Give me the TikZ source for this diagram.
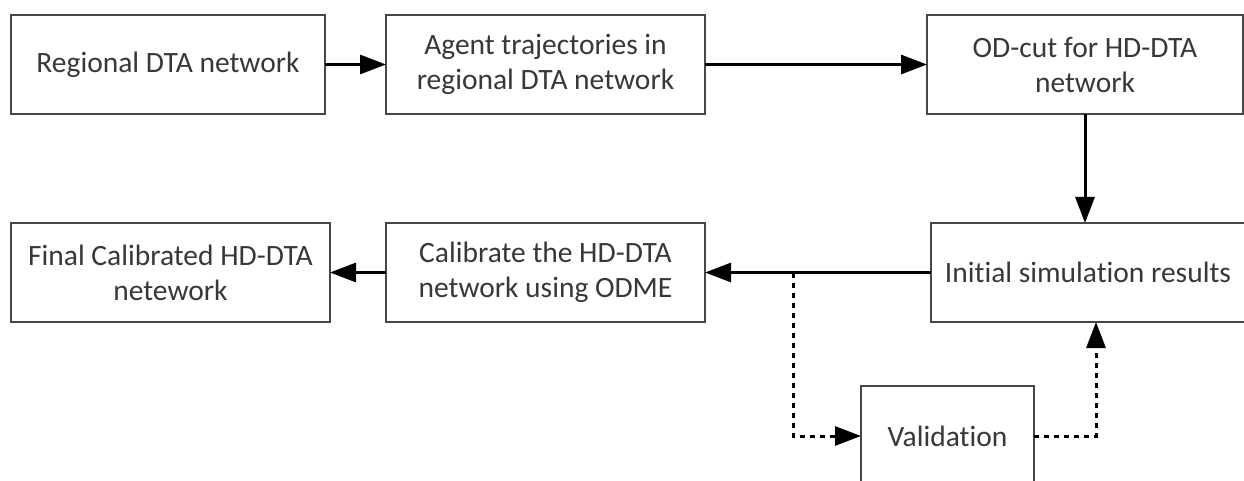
\documentclass[tikz,border=0pt]{standalone}
\usepackage{fontspec}
\setmainfont{Carlito}[Ligatures=NoCommon]
\usetikzlibrary{arrows.meta}
\begin{document}
\begin{tikzpicture}[x=1pt,y=-1pt,
  box/.style={draw=black!72,line width=2pt,rectangle,minimum height=99pt,
    inner sep=0pt,outer sep=0pt,align=center,text=black!78,
    font=\fontsize{29.5}{35}\selectfont},
  flow/.style={line width=3pt,draw=black,-{Triangle[length=26pt,width=19pt]}},
  dotflow/.style={flow,dash pattern=on 5pt off 5pt}]
\useasboundingbox (0,0) rectangle (1244,481);
\clip (0,0) rectangle (1244,481);
\fill[white] (0,0) rectangle (1244,481);
\node[box,minimum width=314pt] (b1) at (168,64.5) {Regional DTA network};
\node[box,minimum width=319pt] (b2) at (545.5,64.5) {Agent trajectories in\\regional DTA network};
\node[box,minimum width=316pt] (b3) at (1085,64.5) {OD-cut for HD-DTA\\network};
\node[box,minimum width=314pt] (b4) at (1088,272.5) {Initial simulation results};
\node[box,minimum width=319pt] (b5) at (545.5,272.5) {Calibrate the HD-DTA\\network using ODME};
\node[box,minimum width=319pt] (b6) at (170.5,272.5) {Final Calibrated HD-DTA\\netework};
\node[box,minimum width=173pt,minimum height=100pt] (val) at (947.5,436) {Validation};
\coordinate (split) at (793,272.5);
\coordinate (upx) at (1096,0);
\draw[flow] (b1) -- (b2);
\draw[flow] (b2) -- (b3);
\draw[flow] (b3.south) -- (b3.south |- b4.north);
\draw[flow] (b4) -- (b5);
\draw[flow] (b5) -- (b6);
\draw[dotflow] (split) |- (val.west);
\draw[dotflow] (val.east) -| (upx |- b4.south);
\end{tikzpicture}
\end{document}
